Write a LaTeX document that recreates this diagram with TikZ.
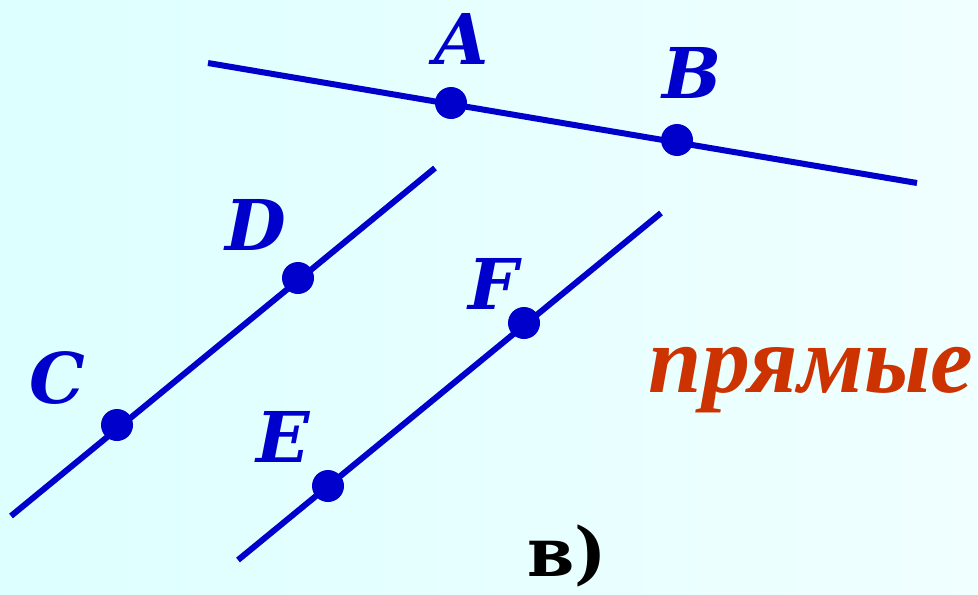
\documentclass[tikz,border=0pt]{standalone}
\usepackage{fontspec}
\setmainfont{DejaVu Serif}
\newfontfamily\wordfont{Liberation Serif}
\definecolor{lineblue}{HTML}{0000CC}
\definecolor{wordred}{HTML}{CC3300}
\definecolor{bgleft}{HTML}{DDFFFF}
\definecolor{bgright}{HTML}{F0FFFF}
\begin{document}
\begin{tikzpicture}[x=0.5pt,y=-0.5pt,
  pt/.style={circle,fill=lineblue,inner sep=0pt,minimum size=16pt},
  ln/.style={draw=lineblue,line width=3pt},
  lbl/.style={text=lineblue,font=\fontsize{35}{38}\selectfont\bfseries\itshape,inner sep=0pt}]
\shade[shading angle=120,left color=bgleft,right color=bgright] (0,0) rectangle (978,594);
\useasboundingbox (0,0) rectangle (978,594);
% line AB
\coordinate (ab1) at (208,63);
\coordinate (ab2) at (917,183);
\draw[ln] (ab1) -- (ab2);
% line CD
\coordinate (cd1) at (11,516);
\coordinate (cd2) at (435,168);
\draw[ln] (cd1) -- (cd2);
% line EF
\coordinate (ef1) at (238,560);
\coordinate (ef2) at (661,213);
\draw[ln] (ef1) -- (ef2);
% points
\node[pt] (A) at (451,103) {};
\node[pt] (B) at (677,140) {};
\node[pt] (D) at (298,278) {};
\node[pt] (C) at (117,425) {};
\node[pt] (F) at (524,323) {};
\node[pt] (E) at (328,486) {};
% labels
\node[lbl] (lA) at (462,39) {A};
\node[lbl] (lB) at (692,73) {B};
\node[lbl] (lD) at (256,225) {D};
\node[lbl] (lC) at (57,378) {C};
\node[lbl] (lF) at (493,284) {F};
\node[lbl] (lE) at (283,437) {E};
\node[text=wordred,font=\wordfont\fontsize{48}{50}\selectfont\bfseries\itshape,inner sep=0pt] (w) at (811,380) {прямые};
\node[font=\fontsize{34}{36}\selectfont\bfseries,inner sep=0pt] (v) at (567,556) {в)};
\end{tikzpicture}
\end{document}
